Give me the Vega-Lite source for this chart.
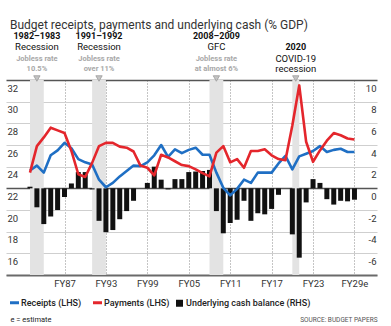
{
  "$schema": "https://vega.github.io/schema/vega-lite/v6.json",
  "width": 371,
  "height": 195,
  "autosize": {"type": "none"},
  "padding": {"left": 6, "top": 80, "right": 14, "bottom": 51},
  "background": "white",
  "config": {"view": {"stroke": null}, "font": "Roboto"},
  "title": {"text": "Budget receipts, payments and underlying cash (% GDP)", "anchor": "start", "frame": "group", "fontSize": 12, "fontWeight": "normal", "color": "#333333", "font": "Roboto", "dx": 4, "offset": 0},
  "datasets": {
    "budget": [
      {"year": 1982, "receipts": 23.65, "payments": 23.45, "balance": 0.15},
      {"year": 1983, "receipts": 24.1, "payments": 25.9, "balance": -1.75},
      {"year": 1984, "receipts": 23.45, "payments": 26.7, "balance": -3.3},
      {"year": 1985, "receipts": 25.05, "payments": 27.6, "balance": -2.6},
      {"year": 1986, "receipts": 25.5, "payments": 27.35, "balance": -2.0},
      {"year": 1987, "receipts": 26.2, "payments": 27.1, "balance": -0.8},
      {"year": 1988, "receipts": 25.7, "payments": 25.45, "balance": 0.45},
      {"year": 1989, "receipts": 24.7, "payments": 23.3, "balance": 1.5},
      {"year": 1990, "receipts": 24.4, "payments": 23.05, "balance": 1.5},
      {"year": 1991, "receipts": 24.2, "payments": 24.35, "balance": -0.1},
      {"year": 1992, "receipts": 22.8, "payments": 25.9, "balance": -3.0},
      {"year": 1993, "receipts": 22.1, "payments": 26.2, "balance": -4.05},
      {"year": 1994, "receipts": 22.5, "payments": 26.2, "balance": -3.85},
      {"year": 1995, "receipts": 23.1, "payments": 25.85, "balance": -2.85},
      {"year": 1996, "receipts": 23.6, "payments": 25.75, "balance": -2.1},
      {"year": 1997, "receipts": 24.1, "payments": 25.4, "balance": -1.15},
      {"year": 1998, "receipts": 24.05, "payments": 24.1, "balance": 0.0},
      {"year": 1999, "receipts": 24.4, "payments": 23.9, "balance": 0.5},
      {"year": 2000, "receipts": 25.05, "payments": 23.2, "balance": 2.0},
      {"year": 2001, "receipts": 26.0, "payments": 25.1, "balance": 0.8},
      {"year": 2002, "receipts": 24.9, "payments": 24.85, "balance": -0.1},
      {"year": 2003, "receipts": 25.6, "payments": 24.5, "balance": 0.85},
      {"year": 2004, "receipts": 25.25, "payments": 24.15, "balance": 0.85},
      {"year": 2005, "receipts": 25.55, "payments": 24.05, "balance": 1.5},
      {"year": 2006, "receipts": 25.75, "payments": 23.75, "balance": 1.55},
      {"year": 2007, "receipts": 25.1, "payments": 23.4, "balance": 1.6},
      {"year": 2008, "receipts": 25.1, "payments": 23.1, "balance": 1.7},
      {"year": 2009, "receipts": 23.45, "payments": 25.3, "balance": -2.1},
      {"year": 2010, "receipts": 22.05, "payments": 25.9, "balance": -4.15},
      {"year": 2011, "receipts": 21.35, "payments": 24.4, "balance": -3.2},
      {"year": 2012, "receipts": 21.95, "payments": 24.7, "balance": -2.9},
      {"year": 2013, "receipts": 22.8, "payments": 23.9, "balance": -1.15},
      {"year": 2014, "receipts": 22.5, "payments": 25.45, "balance": -3.0},
      {"year": 2015, "receipts": 23.45, "payments": 25.45, "balance": -2.3},
      {"year": 2016, "receipts": 23.45, "payments": 25.6, "balance": -2.4},
      {"year": 2017, "receipts": 23.45, "payments": 25.05, "balance": -1.9},
      {"year": 2018, "receipts": 24.3, "payments": 24.7, "balance": -0.6},
      {"year": 2019, "receipts": 25.0, "payments": 24.6, "balance": 0.0},
      {"year": 2020, "receipts": 23.75, "payments": 27.8, "balance": -4.25},
      {"year": 2021, "receipts": 24.95, "payments": 31.5, "balance": -6.4},
      {"year": 2022, "receipts": 25.2, "payments": 26.3, "balance": -1.3},
      {"year": 2023, "receipts": 25.45, "payments": 24.45, "balance": 0.85},
      {"year": 2024, "receipts": 25.9, "payments": 25.5, "balance": 0.5},
      {"year": 2025, "receipts": 25.35, "payments": 26.4, "balance": -1.0},
      {"year": 2026, "receipts": 25.55, "payments": 27.1, "balance": -1.5},
      {"year": 2027, "receipts": 25.65, "payments": 26.9, "balance": -1.15},
      {"year": 2028, "receipts": 25.35, "payments": 26.6, "balance": -1.2},
      {"year": 2029, "receipts": 25.35, "payments": 26.5, "balance": -1.05}
    ],
    "events": [
      {"start": 1982, "end": 1984, "mid": 1983, "period": "1982–1983", "name": "Recession", "note": ["Jobless rate", "10.5%"]},
      {"start": 1991, "end": 1993, "mid": 1992, "period": "1991–1992", "name": "Recession", "note": ["Jobless rate", "over 11%"]},
      {"start": 2008, "end": 2010, "mid": 2009, "period": "2008–2009", "name": "GFC", "note": ["Jobless rate", "at almost 6%"]},
      {"start": 2020, "end": 2021, "mid": 2020.5, "period": "2020", "name": ["COVID-19", "recession"], "note": null}
    ]
  },
  "layer": [
    {
      "data": {"name": "events"},
      "mark": {"type": "rect", "color": "#e3e3e3"},
      "encoding": {
        "x": {"field": "start", "type": "quantitative", "scale": {"domain": [1979.25, 2031.54], "nice": false, "zero": false},
          "axis": {"values": [1987, 1993, 1999, 2005, 2011, 2017, 2023, 2029], "labelExpr": "datum.value == 2029 ? 'FY29e' : 'FY' + substring(toString(datum.value), 2)", "grid": true, "gridDash": [1, 2], "gridColor": "#8a8a8a", "gridWidth": 1, "ticks": false, "domain": true, "domainColor": "#6a6a6a", "domainWidth": 2, "labelFont": "Roboto", "labelFontSize": 9.5, "labelColor": "#333333", "labelPadding": 3, "labelBaseline": "top", "labelFlush": false, "labelOverlap": false, "title": "e = estimate", "titleX": 4, "titleY": 44, "titleAlign": "left", "titleAnchor": "start", "titleBaseline": "middle", "titleFont": "Roboto", "titleFontSize": 7.5, "titleFontWeight": "normal", "titleColor": "#222222"}},
        "x2": {"field": "end"}
      }
    },
    {
      "data": {"name": "budget"},
      "transform": [{"fold": ["balance"], "as": ["series", "value"]}],
      "mark": {"type": "bar", "width": 5},
      "encoding": {
        "x": {"field": "year", "type": "quantitative", "scale": {"domain": [1979.25, 2031.54], "nice": false, "zero": false},
          "axis": {"values": [1987, 1993, 1999, 2005, 2011, 2017, 2023, 2029], "labelExpr": "datum.value == 2029 ? 'FY29e' : 'FY' + substring(toString(datum.value), 2)", "grid": true, "gridDash": [1, 2], "gridColor": "#8a8a8a", "gridWidth": 1, "ticks": false, "domain": true, "domainColor": "#6a6a6a", "domainWidth": 2, "labelFont": "Roboto", "labelFontSize": 9.5, "labelColor": "#333333", "labelPadding": 3, "labelBaseline": "top", "labelFlush": false, "labelOverlap": false, "title": "e = estimate", "titleX": 4, "titleY": 44, "titleAlign": "left", "titleAnchor": "start", "titleBaseline": "middle", "titleFont": "Roboto", "titleFontSize": 7.5, "titleFontWeight": "normal", "titleColor": "#222222"}},
        "y": {
          "field": "value", "type": "quantitative",
          "scale": {"domain": [-8, 10], "nice": false, "zero": true},
          "axis": {
            "orient": "right", "values": [-8, -6, -4, -2, 0, 2, 4, 6, 8, 10],
            "labelExpr": "datum.value == -8 ? '' : toString(datum.value)",
            "grid": true,
            "gridColor": {"condition": {"test": "datum.value == 10 || datum.value == 0", "value": "#555555"}, "value": "#cfcfcf"},
            "gridWidth": {"condition": {"test": "datum.value == 10 || datum.value == 0", "value": 1.5}, "value": 1},
            "ticks": false, "domain": false,
            "labelAlign": "right", "labelPadding": -1, "labelBaseline": "top", "labelOffset": 3,
            "labelFont": "Roboto", "labelFontSize": 9.5, "labelColor": "#333333", "labelOverlap": false, "labelBound": false, "labelFlush": false,
            "title": "SOURCE: BUDGET PAPERS", "titleAngle": 0, "titleAlign": "right", "titleBaseline": "middle", "titleX": 0, "titleY": 239,
            "titleFont": "Roboto", "titleFontSize": 6.5, "titleFontWeight": "normal", "titleColor": "#555555"
          }
        },
        "color": {
          "field": "series", "type": "nominal",
          "scale": {"domain": ["receipts", "payments", "balance"], "range": ["#1f6fc4", "#e4262c", "#111111"]},
          "legend": {
            "orient": "none", "legendX": 4, "legendY": 218, "direction": "horizontal", "title": null,
            "labelExpr": "datum.value == 'receipts' ? 'Receipts (LHS)' : datum.value == 'payments' ? 'Payments (LHS)' : 'Underlying cash balance (RHS)'",
            "labelFont": "Roboto", "labelFontSize": 9, "labelFontWeight": 500, "labelColor": "#222222",
            "columnPadding": 5, "labelOffset": 2, "padding": 0, "symbolType": "stroke",
            "encode": {
              "symbols": {
                "update": {
                  "shape": {"signal": "datum.value === 'balance' ? 'square' : 'stroke'"},
                  "size": {"signal": "datum.value === 'balance' ? 49 : 81"},
                  "fill": {"signal": "datum.value === 'balance' ? '#111111' : 'transparent'"},
                  "stroke": {"signal": "datum.value === 'receipts' ? '#1f6fc4' : datum.value === 'payments' ? '#e4262c' : 'transparent'"},
                  "strokeWidth": {"signal": "datum.value === 'balance' ? 0 : 3"}
                }
              }
            }
          }
        }
      }
    },
    {
      "layer": [
        {
          "data": {"name": "budget"},
          "transform": [{"fold": ["receipts", "payments"], "as": ["series", "value"]}],
          "mark": {"type": "line", "strokeWidth": 2.6, "strokeJoin": "round"},
          "encoding": {
            "x": {"field": "year", "type": "quantitative", "scale": {"domain": [1979.25, 2031.54], "nice": false, "zero": false},
              "axis": {"values": [1987, 1993, 1999, 2005, 2011, 2017, 2023, 2029], "labelExpr": "datum.value == 2029 ? 'FY29e' : 'FY' + substring(toString(datum.value), 2)", "grid": true, "gridDash": [1, 2], "gridColor": "#8a8a8a", "gridWidth": 1, "ticks": false, "domain": true, "domainColor": "#6a6a6a", "domainWidth": 2, "labelFont": "Roboto", "labelFontSize": 9.5, "labelColor": "#333333", "labelPadding": 3, "labelBaseline": "top", "labelFlush": false, "labelOverlap": false, "title": "e = estimate", "titleX": 4, "titleY": 44, "titleAlign": "left", "titleAnchor": "start", "titleBaseline": "middle", "titleFont": "Roboto", "titleFontSize": 7.5, "titleFontWeight": "normal", "titleColor": "#222222"}},
            "y": {"field": "value", "type": "quantitative", "scale": {"domain": [14, 32], "nice": false, "zero": false},
              "axis": {"orient": "left", "values": [14, 16, 18, 20, 22, 24, 26, 28, 30, 32], "labelExpr": "datum.value == 14 ? '' : toString(datum.value)", "grid": false, "ticks": false, "domain": false, "labelAlign": "left", "labelPadding": -1, "labelBaseline": "top", "labelOffset": 3, "labelFont": "Roboto", "labelFontSize": 9.5, "labelColor": "#333333", "labelOverlap": false, "labelBound": false, "labelFlush": false, "title": null}},
            "color": {"field": "series", "type": "nominal", "scale": {"domain": ["receipts", "payments", "balance"], "range": ["#1f6fc4", "#e4262c", "#111111"]}}
          }
        },
        {
          "data": {"name": "events"},
          "mark": {"type": "point", "shape": "triangle-down", "filled": true, "fill": "#c4c4c4", "stroke": "#9a9a9a", "strokeWidth": 0.8, "size": 40, "opacity": 1},
          "encoding": {
            "x": {"field": "mid", "type": "quantitative", "scale": {"domain": [1979.25, 2031.54], "nice": false, "zero": false},
              "axis": {"values": [1987, 1993, 1999, 2005, 2011, 2017, 2023, 2029], "labelExpr": "datum.value == 2029 ? 'FY29e' : 'FY' + substring(toString(datum.value), 2)", "grid": true, "gridDash": [1, 2], "gridColor": "#8a8a8a", "gridWidth": 1, "ticks": false, "domain": true, "domainColor": "#6a6a6a", "domainWidth": 2, "labelFont": "Roboto", "labelFontSize": 9.5, "labelColor": "#333333", "labelPadding": 3, "labelBaseline": "top", "labelFlush": false, "labelOverlap": false, "title": "e = estimate", "titleX": 4, "titleY": 44, "titleAlign": "left", "titleAnchor": "start", "titleBaseline": "middle", "titleFont": "Roboto", "titleFontSize": 7.5, "titleFontWeight": "normal", "titleColor": "#222222"}},
            "y": {"datum": 32, "type": "quantitative", "scale": {"domain": [14, 32], "nice": false, "zero": false},
              "axis": {"orient": "left", "values": [14, 16, 18, 20, 22, 24, 26, 28, 30, 32], "labelExpr": "datum.value == 14 ? '' : toString(datum.value)", "grid": false, "ticks": false, "domain": false, "labelAlign": "left", "labelPadding": -1, "labelBaseline": "top", "labelOffset": 3, "labelFont": "Roboto", "labelFontSize": 9.5, "labelColor": "#333333", "labelOverlap": false, "labelBound": false, "labelFlush": false, "title": null}},
            "yOffset": {"value": -1.5}
          }
        },
        {
          "data": {"name": "events"},
          "transform": [{"filter": "datum.note != null"}],
          "mark": {"type": "text", "font": "Roboto", "fontSize": 9, "fontWeight": "bold", "color": "#111111", "baseline": "middle", "dy": -44},
          "encoding": {
            "x": {"field": "mid", "type": "quantitative", "scale": {"domain": [1979.25, 2031.54], "nice": false, "zero": false},
              "axis": {"values": [1987, 1993, 1999, 2005, 2011, 2017, 2023, 2029], "labelExpr": "datum.value == 2029 ? 'FY29e' : 'FY' + substring(toString(datum.value), 2)", "grid": true, "gridDash": [1, 2], "gridColor": "#8a8a8a", "gridWidth": 1, "ticks": false, "domain": true, "domainColor": "#6a6a6a", "domainWidth": 2, "labelFont": "Roboto", "labelFontSize": 9.5, "labelColor": "#333333", "labelPadding": 3, "labelBaseline": "top", "labelFlush": false, "labelOverlap": false, "title": "e = estimate", "titleX": 4, "titleY": 44, "titleAlign": "left", "titleAnchor": "start", "titleBaseline": "middle", "titleFont": "Roboto", "titleFontSize": 7.5, "titleFontWeight": "normal", "titleColor": "#222222"}},
            "y": {"datum": 32, "type": "quantitative", "scale": {"domain": [14, 32], "nice": false, "zero": false},
              "axis": {"orient": "left", "values": [14, 16, 18, 20, 22, 24, 26, 28, 30, 32], "labelExpr": "datum.value == 14 ? '' : toString(datum.value)", "grid": false, "ticks": false, "domain": false, "labelAlign": "left", "labelPadding": -1, "labelBaseline": "top", "labelOffset": 3, "labelFont": "Roboto", "labelFontSize": 9.5, "labelColor": "#333333", "labelOverlap": false, "labelBound": false, "labelFlush": false, "title": null}},
            "text": {"field": "period"}
          }
        },
        {
          "data": {"name": "events"},
          "transform": [{"filter": "datum.note != null"}],
          "mark": {"type": "text", "font": "Roboto", "fontSize": 9.5, "color": "#111111", "baseline": "middle", "dy": -33},
          "encoding": {
            "x": {"field": "mid", "type": "quantitative", "scale": {"domain": [1979.25, 2031.54], "nice": false, "zero": false},
              "axis": {"values": [1987, 1993, 1999, 2005, 2011, 2017, 2023, 2029], "labelExpr": "datum.value == 2029 ? 'FY29e' : 'FY' + substring(toString(datum.value), 2)", "grid": true, "gridDash": [1, 2], "gridColor": "#8a8a8a", "gridWidth": 1, "ticks": false, "domain": true, "domainColor": "#6a6a6a", "domainWidth": 2, "labelFont": "Roboto", "labelFontSize": 9.5, "labelColor": "#333333", "labelPadding": 3, "labelBaseline": "top", "labelFlush": false, "labelOverlap": false, "title": "e = estimate", "titleX": 4, "titleY": 44, "titleAlign": "left", "titleAnchor": "start", "titleBaseline": "middle", "titleFont": "Roboto", "titleFontSize": 7.5, "titleFontWeight": "normal", "titleColor": "#222222"}},
            "y": {"datum": 32, "type": "quantitative", "scale": {"domain": [14, 32], "nice": false, "zero": false},
              "axis": {"orient": "left", "values": [14, 16, 18, 20, 22, 24, 26, 28, 30, 32], "labelExpr": "datum.value == 14 ? '' : toString(datum.value)", "grid": false, "ticks": false, "domain": false, "labelAlign": "left", "labelPadding": -1, "labelBaseline": "top", "labelOffset": 3, "labelFont": "Roboto", "labelFontSize": 9.5, "labelColor": "#333333", "labelOverlap": false, "labelBound": false, "labelFlush": false, "title": null}},
            "text": {"field": "name"}
          }
        },
        {
          "data": {"name": "events"},
          "transform": [{"filter": "datum.note != null"}],
          "mark": {"type": "text", "font": "Roboto", "fontSize": 7.5, "fontWeight": "bold", "color": "#a8a8a8", "baseline": "middle", "lineHeight": 10.5, "dy": -21.5},
          "encoding": {
            "x": {"field": "mid", "type": "quantitative", "scale": {"domain": [1979.25, 2031.54], "nice": false, "zero": false},
              "axis": {"values": [1987, 1993, 1999, 2005, 2011, 2017, 2023, 2029], "labelExpr": "datum.value == 2029 ? 'FY29e' : 'FY' + substring(toString(datum.value), 2)", "grid": true, "gridDash": [1, 2], "gridColor": "#8a8a8a", "gridWidth": 1, "ticks": false, "domain": true, "domainColor": "#6a6a6a", "domainWidth": 2, "labelFont": "Roboto", "labelFontSize": 9.5, "labelColor": "#333333", "labelPadding": 3, "labelBaseline": "top", "labelFlush": false, "labelOverlap": false, "title": "e = estimate", "titleX": 4, "titleY": 44, "titleAlign": "left", "titleAnchor": "start", "titleBaseline": "middle", "titleFont": "Roboto", "titleFontSize": 7.5, "titleFontWeight": "normal", "titleColor": "#222222"}},
            "y": {"datum": 32, "type": "quantitative", "scale": {"domain": [14, 32], "nice": false, "zero": false},
              "axis": {"orient": "left", "values": [14, 16, 18, 20, 22, 24, 26, 28, 30, 32], "labelExpr": "datum.value == 14 ? '' : toString(datum.value)", "grid": false, "ticks": false, "domain": false, "labelAlign": "left", "labelPadding": -1, "labelBaseline": "top", "labelOffset": 3, "labelFont": "Roboto", "labelFontSize": 9.5, "labelColor": "#333333", "labelOverlap": false, "labelBound": false, "labelFlush": false, "title": null}},
            "text": {"field": "note"}
          }
        },
        {
          "data": {"name": "events"},
          "transform": [{"filter": "datum.note == null"}],
          "mark": {"type": "text", "font": "Roboto", "fontSize": 9, "fontWeight": "bold", "color": "#111111", "baseline": "middle", "dy": -33},
          "encoding": {
            "x": {"field": "mid", "type": "quantitative", "scale": {"domain": [1979.25, 2031.54], "nice": false, "zero": false},
              "axis": {"values": [1987, 1993, 1999, 2005, 2011, 2017, 2023, 2029], "labelExpr": "datum.value == 2029 ? 'FY29e' : 'FY' + substring(toString(datum.value), 2)", "grid": true, "gridDash": [1, 2], "gridColor": "#8a8a8a", "gridWidth": 1, "ticks": false, "domain": true, "domainColor": "#6a6a6a", "domainWidth": 2, "labelFont": "Roboto", "labelFontSize": 9.5, "labelColor": "#333333", "labelPadding": 3, "labelBaseline": "top", "labelFlush": false, "labelOverlap": false, "title": "e = estimate", "titleX": 4, "titleY": 44, "titleAlign": "left", "titleAnchor": "start", "titleBaseline": "middle", "titleFont": "Roboto", "titleFontSize": 7.5, "titleFontWeight": "normal", "titleColor": "#222222"}},
            "y": {"datum": 32, "type": "quantitative", "scale": {"domain": [14, 32], "nice": false, "zero": false},
              "axis": {"orient": "left", "values": [14, 16, 18, 20, 22, 24, 26, 28, 30, 32], "labelExpr": "datum.value == 14 ? '' : toString(datum.value)", "grid": false, "ticks": false, "domain": false, "labelAlign": "left", "labelPadding": -1, "labelBaseline": "top", "labelOffset": 3, "labelFont": "Roboto", "labelFontSize": 9.5, "labelColor": "#333333", "labelOverlap": false, "labelBound": false, "labelFlush": false, "title": null}},
            "text": {"field": "period"}
          }
        },
        {
          "data": {"name": "events"},
          "transform": [{"filter": "datum.note == null"}],
          "mark": {"type": "text", "font": "Roboto", "fontSize": 9.5, "color": "#111111", "baseline": "middle", "lineHeight": 10.5, "dy": -21.5},
          "encoding": {
            "x": {"field": "mid", "type": "quantitative", "scale": {"domain": [1979.25, 2031.54], "nice": false, "zero": false},
              "axis": {"values": [1987, 1993, 1999, 2005, 2011, 2017, 2023, 2029], "labelExpr": "datum.value == 2029 ? 'FY29e' : 'FY' + substring(toString(datum.value), 2)", "grid": true, "gridDash": [1, 2], "gridColor": "#8a8a8a", "gridWidth": 1, "ticks": false, "domain": true, "domainColor": "#6a6a6a", "domainWidth": 2, "labelFont": "Roboto", "labelFontSize": 9.5, "labelColor": "#333333", "labelPadding": 3, "labelBaseline": "top", "labelFlush": false, "labelOverlap": false, "title": "e = estimate", "titleX": 4, "titleY": 44, "titleAlign": "left", "titleAnchor": "start", "titleBaseline": "middle", "titleFont": "Roboto", "titleFontSize": 7.5, "titleFontWeight": "normal", "titleColor": "#222222"}},
            "y": {"datum": 32, "type": "quantitative", "scale": {"domain": [14, 32], "nice": false, "zero": false},
              "axis": {"orient": "left", "values": [14, 16, 18, 20, 22, 24, 26, 28, 30, 32], "labelExpr": "datum.value == 14 ? '' : toString(datum.value)", "grid": false, "ticks": false, "domain": false, "labelAlign": "left", "labelPadding": -1, "labelBaseline": "top", "labelOffset": 3, "labelFont": "Roboto", "labelFontSize": 9.5, "labelColor": "#333333", "labelOverlap": false, "labelBound": false, "labelFlush": false, "title": null}},
            "text": {"field": "name"}
          }
        }
      ]
    }
  ],
  "resolve": {"scale": {"y": "independent"}}
}
